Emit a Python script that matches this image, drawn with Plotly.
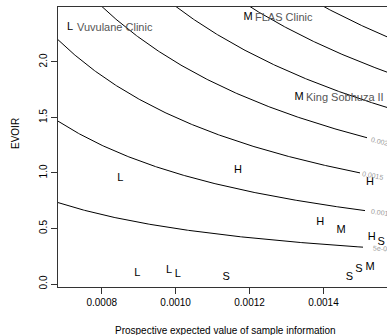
import numpy as np
import plotly.graph_objects as go

# ---- data ----
evsi = [0.000714, 0.001196, 0.001334, 0.001169, 0.000850, 0.000896, 0.000982, 0.001006,
        0.001137, 0.001526, 0.001391, 0.001448, 0.001531, 0.001556, 0.001470, 0.001496, 0.001526]
evoir = [2.311, 2.401, 1.682, 1.025, 0.953, 0.099, 0.126, 0.090,
         0.063, 0.917, 0.558, 0.486, 0.423, 0.378, 0.063, 0.135, 0.153]
letters = ["L", "M", "M", "H", "L", "L", "L", "L",
           "S", "H", "H", "M", "H", "S", "S", "S", "M"]
names = ["Vuvulane Clinic", "FLAS Clinic", "King Sobhuza II Public Health Unit"] + [""] * 14

levels = [0.0005, 0.001, 0.0015, 0.002, 0.0025, 0.003, 0.0035]
level_labels = ["5e-04", "0.001", "0.0015", "0.002", "0.0025", "0.003", "0.0035"]

x_ticks = [0.0008, 0.0010, 0.0012, 0.0014]
x_tick_text = ["0.0008", "0.0010", "0.0012", "0.0014"]
y_ticks = [0.0, 0.5, 1.0, 1.5, 2.0]
y_tick_text = ["0.0", "0.5", "1.0", "1.5", "2.0"]

# ---- layout geometry ----
W, H = 387, 335
ML, MR, MT, MB = 58, 0, 7, 48
XR = [0.0006817, 0.001572]
YR = [-0.027, 2.495]
pw = W - ML - MR
ph = H - MT - MB


def px_to_x(px):
    return XR[0] + (px - ML) / pw * (XR[1] - XR[0])


# line break (px) and label start (px) for labelled contours
style_break = {0.0005: (363, 372), 0.001: (365, 370), 0.0015: (360, 363), 0.002: (367, 370)}

fig = go.Figure()

for lev, lab in zip(levels, level_labels):
    if lev in style_break:
        xend = px_to_x(style_break[lev][0])
    else:
        xend = XR[1]
    xs = np.linspace(XR[0], xend, 300)
    ys = lev / xs
    fig.add_trace(go.Scatter(x=xs, y=ys, mode="lines",
                             line=dict(color="black", width=1),
                             hoverinfo="skip", showlegend=False))
    if lev in style_break:
        xc = px_to_x(style_break[lev][1] + 10)
        yc = lev / xc
        slope = -lev / xc ** 2 * (ph / (YR[1] - YR[0])) / (pw / (XR[1] - XR[0]))
        ang = float(np.degrees(np.arctan(-slope)))
        fig.add_annotation(x=xc, y=yc, xref="x", yref="y", text=lab, showarrow=False,
                           xanchor="center", yanchor="middle", textangle=ang,
                           font=dict(family="Liberation Sans", size=7, color="#999999"))

fig.add_trace(go.Scatter(x=evsi, y=evoir, mode="text", text=letters,
                         textposition="middle center",
                         textfont=dict(family="Liberation Sans", size=11, color="black"),
                         hoverinfo="skip", showlegend=False, cliponaxis=False))

for xv, yv, nm in zip(evsi, evoir, names):
    if nm:
        fig.add_annotation(x=xv, y=yv, xref="x", yref="y", text=nm, showarrow=False,
                           xanchor="left", yanchor="middle", xshift=5,
                           font=dict(family="Liberation Sans", size=11, color="#555555"))

# axis titles
fig.add_annotation(xref="paper", yref="paper", x=(225.5 - ML) / pw, y=(H - MB - 331) / ph,
                   text="Prospective expected value of sample information", showarrow=False,
                   xanchor="center", yanchor="middle",
                   font=dict(family="Liberation Sans", size=10, color="black"))
fig.add_annotation(xref="paper", yref="paper", x=(15 - ML) / pw, y=(H - MB - 134) / ph,
                   text="EVOIR", showarrow=False, textangle=-90,
                   xanchor="center", yanchor="middle",
                   font=dict(family="Liberation Sans", size=10, color="black"))

fig.update_layout(
    width=W, height=H,
    margin=dict(l=ML, r=MR, t=MT, b=MB, pad=0),
    plot_bgcolor="white", paper_bgcolor="white",
    showlegend=False,
    xaxis=dict(range=XR, tickvals=x_ticks, ticktext=x_tick_text, ticks="outside", ticklen=6,
               tickcolor="#333333", showline=True, linecolor="#333333", linewidth=1,
               mirror=True, showgrid=False, zeroline=False,
               tickfont=dict(family="Liberation Sans", size=10, color="black")),
    yaxis=dict(range=YR, tickvals=y_ticks, ticktext=y_tick_text, ticks="outside", ticklen=6,
               tickcolor="#333333", showline=True, linecolor="#333333", linewidth=1,
               showgrid=False, zeroline=False, tickangle=-90,
               tickfont=dict(family="Liberation Sans", size=10, color="black")),
)

fig.write_html("out.html", config={"displayModeBar": False},
               post_script="document.body.style.margin='0';document.body.style.padding='0';"
                           "document.body.style.overflow='hidden';")
